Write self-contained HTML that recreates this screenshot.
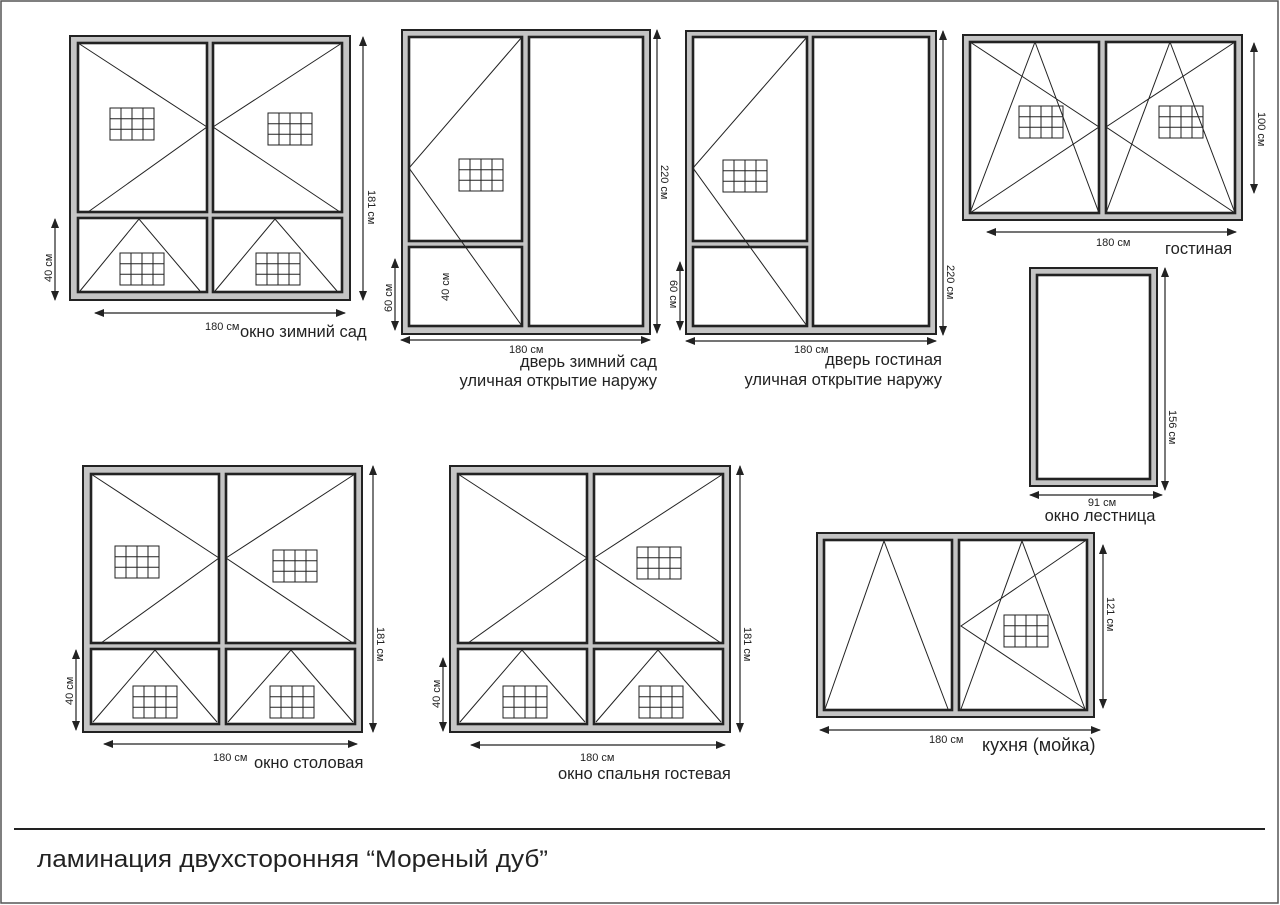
<!DOCTYPE html>
<html><head><meta charset="utf-8"><style>
html,body{margin:0;padding:0;background:#fff;}
svg{display:block;}
text{font-family:"Liberation Sans","DejaVu Sans",sans-serif;fill:#222;}
.fr{fill:#c4c4c4;stroke:#222;stroke-width:2;}
.pn{fill:#fff;stroke:#222;stroke-width:2.6;}
.ln{stroke:#222;stroke-width:1;fill:none;}
.dim{stroke:#222;stroke-width:1.2;fill:none;marker-start:url(#a);marker-end:url(#a);}
.s{font-size:11px;}
.m{font-size:16.5px;}
</style></head><body>
<svg width="1280" height="905" viewBox="0 0 1280 905" xmlns="http://www.w3.org/2000/svg">
<defs>
<marker id="a" viewBox="0 0 10 8" refX="9" refY="4" markerWidth="10" markerHeight="8" markerUnits="userSpaceOnUse" orient="auto-start-reverse"><path d="M0,0 L10,4 L0,8 z" fill="#222"/></marker>
<g id="gr"><rect x="0" y="0" width="44" height="32" fill="none" stroke="#222" stroke-width="1"/><path d="M11,0V32M22,0V32M33,0V32M0,10.7H44M0,21.3H44" stroke="#222" stroke-width="1" fill="none"/></g>
</defs>
<rect x="1" y="1" width="1277" height="902" fill="none" stroke="#555" stroke-width="1.5"/>

<!-- Window 1 -->
<rect class="fr" x="70" y="36" width="280" height="264"/>
<rect class="pn" x="78" y="43" width="129" height="169"/>
<rect class="pn" x="213" y="43" width="129" height="169"/>
<rect class="pn" x="78" y="218" width="129" height="74"/>
<rect class="pn" x="213" y="218" width="129" height="74"/>
<path class="ln" d="M78,43L207,127L88,212M342,43L213,127L340,212M80,291L139,219L200,291M215,291L275,219L337,291"/>
<use href="#gr" x="110" y="108"/><use href="#gr" x="268" y="113"/>
<use href="#gr" x="120" y="253"/><use href="#gr" x="256" y="253"/>
<line class="dim" x1="363" y1="37" x2="363" y2="300"/>
<text class="s" transform="translate(368,190) rotate(90)">181 см</text>
<line class="dim" x1="55" y1="219" x2="55" y2="300"/>
<text class="s" transform="translate(52,282) rotate(-90)">40 см</text>
<line class="dim" x1="95" y1="313" x2="345" y2="313"/>
<text class="s" x="205" y="330">180 см</text>
<text class="m" x="240" y="337">окно зимний сад</text>

<!-- Window 2 -->
<rect class="fr" x="402" y="30" width="248" height="304"/>
<rect class="pn" x="409" y="37" width="113" height="204"/>
<rect class="pn" x="409" y="247" width="113" height="79"/>
<rect class="pn" x="529" y="37" width="114" height="289"/>
<path class="ln" d="M522,37L409,168L522,326"/>
<use href="#gr" x="459" y="159"/>
<text class="s" transform="translate(449,301) rotate(-90)">40 см</text>
<line class="dim" x1="395" y1="259" x2="395" y2="330"/>
<text class="s" transform="translate(392,312) rotate(-90)">60 см</text>
<line class="dim" x1="657" y1="30" x2="657" y2="333"/>
<text class="s" transform="translate(661,165) rotate(90)">220 см</text>
<line class="dim" x1="401" y1="340" x2="650" y2="340"/>
<text class="s" x="509" y="353">180 см</text>
<text class="m" x="657" y="367" text-anchor="end">дверь зимний сад</text>
<text class="m" x="657" y="386" text-anchor="end">уличная открытие наружу</text>

<!-- Window 3 -->
<rect class="fr" x="686" y="31" width="250" height="303"/>
<rect class="pn" x="693" y="37" width="114" height="204"/>
<rect class="pn" x="693" y="247" width="114" height="79"/>
<rect class="pn" x="813" y="37" width="116" height="289"/>
<path class="ln" d="M807,37L693,168L807,326"/>
<use href="#gr" x="723" y="160"/>
<line class="dim" x1="680" y1="262" x2="680" y2="330"/>
<text class="s" transform="translate(670,280) rotate(90)">60 см</text>
<line class="dim" x1="943" y1="31" x2="943" y2="335"/>
<text class="s" transform="translate(947,265) rotate(90)">220 см</text>
<line class="dim" x1="686" y1="341" x2="936" y2="341"/>
<text class="s" x="794" y="353">180 см</text>
<text class="m" x="942" y="365" text-anchor="end">дверь гостиная</text>
<text class="m" x="942" y="385" text-anchor="end">уличная открытие наружу</text>

<!-- Window 4 -->
<rect class="fr" x="963" y="35" width="279" height="185"/>
<rect class="pn" x="970" y="42" width="129" height="171"/>
<rect class="pn" x="1106" y="42" width="129" height="171"/>
<path class="ln" d="M970,42L1099,127L970,213M970,213L1035,42L1099,213M1235,42L1106,127L1235,213M1106,213L1170,42L1235,213"/>
<use href="#gr" x="1019" y="106"/><use href="#gr" x="1159" y="106"/>
<line class="dim" x1="1254" y1="43" x2="1254" y2="193"/>
<text class="s" transform="translate(1258,112) rotate(90)">100 см</text>
<line class="dim" x1="987" y1="232" x2="1236" y2="232"/>
<text class="s" x="1096" y="246">180 см</text>
<text class="m" x="1165" y="254">гостиная</text>

<!-- Window 5 -->
<rect class="fr" x="1030" y="268" width="127" height="218"/>
<rect class="pn" x="1037" y="275" width="113" height="204"/>
<line class="dim" x1="1165" y1="268" x2="1165" y2="490"/>
<text class="s" transform="translate(1169,410) rotate(90)">156 см</text>
<line class="dim" x1="1030" y1="495" x2="1162" y2="495"/>
<text class="s" x="1102" y="506" text-anchor="middle">91 см</text>
<text class="m" x="1100" y="521" text-anchor="middle">окно лестница</text>

<!-- Window 6 -->
<rect class="fr" x="817" y="533" width="277" height="184"/>
<rect class="pn" x="824" y="540" width="128" height="170"/>
<rect class="pn" x="959" y="540" width="128" height="170"/>
<path class="ln" d="M825,709L884,541L948,709M961,709L1022,541L1085,709M1085,541L961,626L1085,709"/>
<use href="#gr" x="1004" y="615"/>
<line class="dim" x1="1103" y1="545" x2="1103" y2="708"/>
<text class="s" transform="translate(1107,597) rotate(90)">121 см</text>
<line class="dim" x1="820" y1="730" x2="1100" y2="730"/>
<text class="s" x="929" y="743">180 см</text>
<text class="m" x="982" y="751" style="font-size:18px">кухня (мойка)</text>

<!-- Window 7 -->
<rect class="fr" x="83" y="466" width="279" height="266"/>
<rect class="pn" x="91" y="474" width="128" height="169"/>
<rect class="pn" x="226" y="474" width="129" height="169"/>
<rect class="pn" x="91" y="649" width="128" height="75"/>
<rect class="pn" x="226" y="649" width="129" height="75"/>
<path class="ln" d="M91,474L219,558L101,643M355,474L226,558L353,643M93,722L155,650L217,722M228,722L291,650L353,722"/>
<use href="#gr" x="115" y="546"/><use href="#gr" x="273" y="550"/>
<use href="#gr" x="133" y="686"/><use href="#gr" x="270" y="686"/>
<line class="dim" x1="373" y1="466" x2="373" y2="732"/>
<text class="s" transform="translate(377,627) rotate(90)">181 см</text>
<line class="dim" x1="76" y1="650" x2="76" y2="730"/>
<text class="s" transform="translate(73,705) rotate(-90)">40 см</text>
<line class="dim" x1="104" y1="744" x2="357" y2="744"/>
<text class="s" x="213" y="761">180 см</text>
<text class="m" x="254" y="768">окно столовая</text>

<!-- Window 8 -->
<rect class="fr" x="450" y="466" width="280" height="266"/>
<rect class="pn" x="458" y="474" width="129" height="169"/>
<rect class="pn" x="594" y="474" width="129" height="169"/>
<rect class="pn" x="458" y="649" width="129" height="75"/>
<rect class="pn" x="594" y="649" width="129" height="75"/>
<path class="ln" d="M458,474L587,558L468,643M723,474L594,558L721,643M460,722L522,650L585,722M596,722L658,650L721,722"/>
<use href="#gr" x="637" y="547"/>
<use href="#gr" x="503" y="686"/><use href="#gr" x="639" y="686"/>
<line class="dim" x1="740" y1="466" x2="740" y2="732"/>
<text class="s" transform="translate(744,627) rotate(90)">181 см</text>
<line class="dim" x1="443" y1="658" x2="443" y2="731"/>
<text class="s" transform="translate(440,708) rotate(-90)">40 см</text>
<line class="dim" x1="471" y1="745" x2="725" y2="745"/>
<text class="s" x="580" y="761">180 см</text>
<text class="m" x="558" y="779">окно спальня гостевая</text>

<!-- bottom -->
<line x1="14" y1="829" x2="1265" y2="829" stroke="#222" stroke-width="2"/>
<text x="37" y="867" style="font-size:24px" textLength="511" lengthAdjust="spacingAndGlyphs">ламинация двухсторонняя “Мореный дуб”</text>
</svg>
</body></html>
